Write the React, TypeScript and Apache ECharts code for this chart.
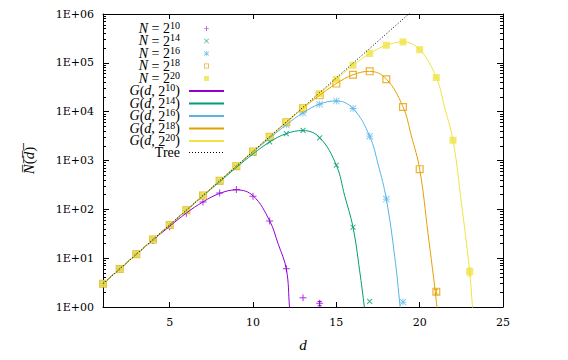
import React, { useEffect, useRef } from 'react';
import * as echarts from 'echarts';

const FONT = 'Liberation Serif';
const TICKFONT = 'DejaVu Serif';

// distances d
const dValues = [1, 2, 3, 4, 5, 6, 7, 8, 9, 10, 11, 12, 13, 14, 15, 16, 17, 18, 19, 20, 21, 22, 23];

// measured N(d) for each N
const n10 = [3, 6, 12, 23, 44, 83, 142, 217, 255, 186, 58, 6.1, 1.55, 1.19];
const n14 = [3, 6, 12, 24, 48, 95, 186, 365, 730, 1390, 2400, 3560, 4150, 2900, 800, 43, 1.3];
const n16 = [3, 6, 12, 24, 48, 96, 191, 382, 762, 1500, 2900, 5400, 9400, 14200, 16500, 11600, 3150, 162, 1.26];
const n18 = [3, 6, 12, 24, 48, 96, 192, 384, 766, 1530, 3050, 6050, 11800, 21600, 37600, 57000, 67000, 46000, 12500, 665, 2.06];
const n20 = [3, 6, 12, 24, 48, 96, 192, 384, 768, 1536, 3070, 6120, 11900, 23400, 45700, 89000, 155000, 229000, 268000, 186000, 50000, 2600, 5.3];

// G(d, N) curves as [d, value]
const g10 = [[1, 3], [2, 6], [3, 12], [4, 23.5], [5, 45], [6, 84], [7, 142], [8, 212], [9, 250], [10, 190], [11, 58], [11.5, 20], [12, 6], [12.19, 1], [12.3, 0.35]];
const g14 = [[1, 3], [2, 6], [3, 12], [4, 24], [5, 48], [6, 95], [7, 188], [8, 368], [9, 720], [10, 1360], [11, 2400], [12, 3550], [13, 4100], [14, 2950], [15, 800], [15.5, 190], [16, 43], [16.4, 5.5], [16.68, 1], [16.8, 0.4]];
const g16 = [[1, 3], [2, 6], [3, 12], [4, 24], [5, 48], [6, 96], [7, 191], [8, 382], [9, 760], [10, 1490], [11, 2880], [12, 5400], [13, 9500], [14, 14300], [15, 16600], [16, 11600], [17, 3150], [17.5, 850], [18, 162], [18.5, 11], [18.83, 1], [18.95, 0.4]];
const g18 = [[1, 3], [2, 6], [3, 12], [4, 24], [5, 48], [6, 96], [7, 192], [8, 384], [9, 766], [10, 1530], [11, 3050], [12, 6050], [13, 11800], [14, 21700], [15, 37600], [16, 57000], [17, 67000], [18, 46500], [19, 12500], [19.5, 3200], [20, 665], [20.5, 32], [21, 1.3], [21.15, 0.3]];
const g20 = [[1, 3], [2, 6], [3, 12], [4, 24], [5, 48], [6, 96], [7, 192], [8, 384], [9, 768], [10, 1536], [11, 3070], [12, 6120], [13, 11900], [14, 23400], [15, 45700], [16, 89000], [17, 155000], [18, 229000], [19, 268000], [20, 186000], [21, 50000], [21.5, 12000], [22, 2600], [22.5, 140], [23, 5.3], [23.17, 1], [23.3, 0.3]];

// tree reference
const treeD = [1, 2, 3, 4, 5, 6, 7, 8, 9, 10, 11, 12, 13, 14, 15, 16, 17, 18, 19, 20];
const treeV = [3, 6, 12, 24, 48, 96, 192, 384, 768, 1536, 3072, 6144, 12288, 24576, 49152, 98304, 196608, 393216, 786432, 1572864];

// error bars [d, low, high]
const errD = [14, 21, 23];
const errLow = [1.06, 1.85, 4.3];
const errHigh = [1.3, 2.3, 6.3];
const errColor = ['#9400d3', '#e69f00', '#f0e442'];

const xTicks = [5, 10, 15, 20, 25];
const yTickLabels = ['1E+00', '1E+01', '1E+02', '1E+03', '1E+04', '1E+05', '1E+06'];

const seriesNames = ['N10', 'N14', 'N16', 'N18', 'N20', 'G10', 'G14', 'G16', 'G18', 'G20', 'Tree'];
const legendLabels: Record<string, string> = {
  N10: '{i|N} = 2{t|10}',
  N14: '{i|N} = 2{t|14}',
  N16: '{i|N} = 2{t|16}',
  N18: '{i|N} = 2{t|18}',
  N20: '{i|N} = 2{t|20}',
  G10: '{i|G}({i|d}, 2{s|10}{e|)}',
  G14: '{i|G}({i|d}, 2{s|14}{e|)}',
  G16: '{i|G}({i|d}, 2{s|16}{e|)}',
  G18: '{i|G}({i|d}, 2{s|18}{e|)}',
  G20: '{i|G}({i|d}, 2{s|20}{e|)}',
  Tree: '{e|Tree}',
};

const colors = ['#9400d3', '#009e73', '#56b4e9', '#e69f00', '#f0e442'];

const PLUS = 'path://M4.3,0H5.7V10H4.3Z M0,4.3H10V5.7H0Z';
const STAR = 'path://M4.4,0H5.6V10H4.4Z M0,4.4H10V5.6H0Z M0.8,0L10,9.2L9.2,10L0,0.8Z M9.2,0L10,0.8L0.8,10L0,9.2Z';
const OPENSQ = 'path://M0,0H10V10H0Z M1.5,1.5V8.5H8.5V1.5Z';
const SQ = 'path://M0,0H10V10H0Z';

// legend icons (padded so that they are drawn small)
const L_PLUS = 'path://M-5,-5 M15,15 M4.3,0H5.7V10H4.3Z M0,4.3H10V5.7H0Z';
const L_X = 'path://M-5,-5 M15,15 M0.9,0L10,9.1L9.1,10L0,0.9Z M9.1,0L10,0.9L0.9,10L0,9.1Z';
const L_STAR = 'path://M-5,-5 M15,15 M4.4,0H5.6V10H4.4Z M0,4.4H10V5.6H0Z M0.8,0L10,9.2L9.2,10L0,0.8Z M9.2,0L10,0.8L0.8,10L0,9.2Z';
const L_OPENSQ = 'path://M-5,-5 M15,15 M0,0H10V10H0Z M1.6,1.6V8.4H8.4V1.6Z';
const L_SQ = 'path://M-5,-5 M15,15 M0,0H10V10H0Z';
const L_LINE = 'path://M0,-5 M35,5 M0,-0.9H35V0.9H0Z';
const L_DOT = 'path://M0,-5 M35,5 M0,-0.5H1V0.5H0Z M3,-0.5H4V0.5H3Z M6,-0.5H7V0.5H6Z M9,-0.5H10V0.5H9Z M12,-0.5H13V0.5H12Z M15,-0.5H16V0.5H15Z M18,-0.5H19V0.5H18Z M21,-0.5H22V0.5H21Z M24,-0.5H25V0.5H24Z M27,-0.5H28V0.5H27Z M30,-0.5H31V0.5H30Z M33,-0.5H34V0.5H33Z';

const legendIcons = [L_PLUS, L_X, L_STAR, L_OPENSQ, L_SQ, L_LINE, L_LINE, L_LINE, L_LINE, L_LINE, L_DOT];

function scatter(name: string, vals: number[], color: string, symbol: string, size: number, rotate = 0) {
  return {
    name,
    type: 'scatter',
    data: vals.map((v, i) => [dValues[i], v]),
    symbol,
    symbolSize: size,
    symbolRotate: rotate,
    itemStyle: { color },
    z: 2,
  };
}

function curve(name: string, pts: number[][], color: string) {
  return {
    name,
    type: 'line',
    data: pts,
    showSymbol: false,
    symbol: 'none',
    smooth: 0.4,
    clip: true,
    lineStyle: { color, width: 1 },
    itemStyle: { color },
    z: 3,
  };
}

const axisFont = { fontFamily: TICKFONT, fontSize: 11, color: '#000' };

export default function App() {
  const ref = useRef<HTMLDivElement>(null);
  useEffect(() => {
    const chart = echarts.init(ref.current!, null, { renderer: 'svg' });
    const option: any = {
      animation: false,
      backgroundColor: '#fff',
      grid: { left: 103, right: 65, top: 14, bottom: 53 },
      legend: {
        orient: 'vertical',
        align: 'right',
        right: 344,
        top: 20,
        padding: 0,
        itemWidth: 35,
        itemHeight: 10,
        itemGap: -3,
        selectedMode: false,
        data: seriesNames.map((n, i) => ({ name: n, icon: legendIcons[i] })),
        formatter: (name: string) => legendLabels[name],
        textStyle: {
          fontFamily: FONT,
          fontSize: 14,
          lineHeight: 13,
          color: '#000',
          rich: {
            i: { fontFamily: FONT, fontSize: 14, fontStyle: 'italic', color: '#000', lineHeight: 13, verticalAlign: 'bottom' },
            s: { fontFamily: FONT, fontSize: 10, color: '#000', lineHeight: 8, padding: [0, 0, 5, 0], verticalAlign: 'bottom' },
            t: { fontFamily: FONT, fontSize: 10, color: '#000', lineHeight: 8, padding: [0, 4, 5, 0], verticalAlign: 'bottom' },
            e: { fontFamily: FONT, fontSize: 14, color: '#000', lineHeight: 13, padding: [0, 4, 0, 0], verticalAlign: 'bottom' },
          },
        },
      },
      xAxis: [
        {
          type: 'value',
          min: 1,
          max: 25,
          position: 'bottom',
          name: 'd',
          nameLocation: 'middle',
          nameGap: 30,
          nameTextStyle: { fontFamily: FONT, fontSize: 15, fontStyle: 'italic', color: '#000' },
          axisLine: { lineStyle: { color: '#000', width: 1 } },
          axisTick: { inside: true, length: 5, lineStyle: { color: '#000' }, customValues: xTicks },
          axisLabel: { ...axisFont, margin: 10, customValues: xTicks },
          splitLine: { show: false },
        },
        {
          type: 'value',
          min: 1,
          max: 25,
          position: 'top',
          axisLine: { lineStyle: { color: '#000', width: 1 } },
          axisTick: { inside: true, length: 5, lineStyle: { color: '#000' }, customValues: xTicks },
          axisLabel: { show: false },
          splitLine: { show: false },
        },
      ],
      yAxis: [
        {
          type: 'log',
          logBase: 10,
          min: 1,
          max: 1e6,
          position: 'left',
          name: '{i|N\u0305}(\u0305{i|d\u0305})\u0305',
          nameLocation: 'middle',
          nameGap: 67,
          nameTextStyle: {
            fontFamily: FONT,
            fontSize: 15,
            color: '#000',
            rich: { i: { fontFamily: FONT, fontSize: 15, fontStyle: 'italic', color: '#000' } },
          },
          axisLine: { show: true, lineStyle: { color: '#000', width: 1 } },
          axisTick: { show: true, inside: true, length: 6, lineStyle: { color: '#000' } },
          minorTick: { show: true, splitNumber: 9, length: 3, lineStyle: { color: '#000' } },
          axisLabel: { ...axisFont, margin: 9, formatter: (_v: number, i: number) => yTickLabels[i] },
          splitLine: { show: false },
        },
        {
          type: 'log',
          logBase: 10,
          min: 1,
          max: 1e6,
          position: 'right',
          axisLine: { show: true, lineStyle: { color: '#000', width: 1 } },
          axisTick: { show: true, inside: true, length: 6, lineStyle: { color: '#000' } },
          minorTick: { show: true, splitNumber: 9, length: 3, lineStyle: { color: '#000' } },
          axisLabel: { show: false },
          splitLine: { show: false },
        },
      ],
      series: [
        scatter('N10', n10, colors[0], PLUS, 7),
        scatter('N14', n14, colors[1], PLUS, 7, 45),
        scatter('N16', n16, colors[2], STAR, 7),
        scatter('N18', n18, colors[3], OPENSQ, 8),
        scatter('N20', n20, colors[4], SQ, 7),
        curve('G10', g10, colors[0]),
        curve('G14', g14, colors[1]),
        curve('G16', g16, colors[2]),
        curve('G18', g18, colors[3]),
        curve('G20', g20, colors[4]),
        {
          name: 'Tree',
          type: 'line',
          data: treeV.map((v, i) => [treeD[i], v]),
          showSymbol: false,
          symbol: 'none',
          clip: true,
          lineStyle: { color: '#000', width: 1, type: [1, 2] },
          itemStyle: { color: '#000' },
          z: 4,
        },
        {
          name: 'err',
          type: 'custom',
          data: errD.map((d, i) => [d, errLow[i], errHigh[i]]),
          encode: { x: 0, y: [1, 2] },
          z: 2,
          renderItem: (params: any, api: any) => {
            const x = api.value(0);
            const lo = api.coord([x, api.value(1)]);
            const hi = api.coord([x, api.value(2)]);
            const c = errColor[params.dataIndex];
            const st = { stroke: c, lineWidth: 1 };
            return {
              type: 'group',
              children: [
                { type: 'line', shape: { x1: lo[0], y1: lo[1], x2: hi[0], y2: hi[1] }, style: st },
                { type: 'line', shape: { x1: lo[0] - 2, y1: lo[1], x2: lo[0] + 2, y2: lo[1] }, style: st },
                { type: 'line', shape: { x1: hi[0] - 2, y1: hi[1], x2: hi[0] + 2, y2: hi[1] }, style: st },
              ],
            };
          },
        },
      ],
    };
    chart.setOption(option);
    return () => chart.dispose();
  }, []);
  return <div ref={ref} style={{ position: 'absolute', left: 0, top: 0, width: 568, height: 360 }} />;
}
